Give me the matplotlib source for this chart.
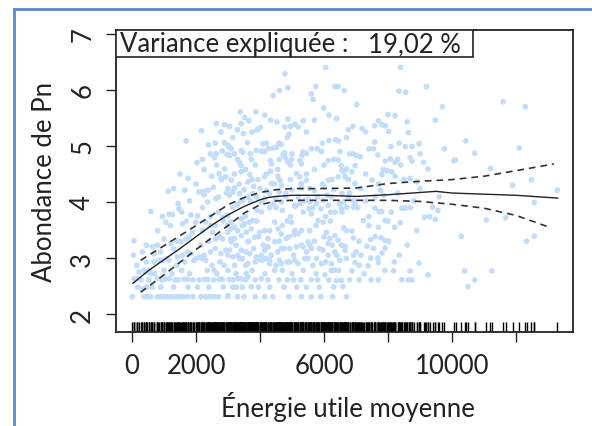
import matplotlib
matplotlib.use("Agg")
import matplotlib.pyplot as plt
from matplotlib.patches import Rectangle
from matplotlib.lines import Line2D

plt.rcParams['font.family'] = ['Lato', 'DejaVu Sans']

# ---------------- data ----------------
pts_x = [
    # upper-left area
    2630, 2890, 2170, 2780, 1690, 2390, 2890, 3040, 2630, 2570, 2820, 2970, 2030, 1750, 2490, 2720,
    2780, 2930, 2890, 1130, 1650, 2100, 2250, 2380, 2540,
    # upper-middle area
    6050, 4780, 4610, 4870, 4410, 5740, 6340, 6440, 5600, 5660, 5990, 3380, 3520, 3410, 3870, 4330,
    4530, 4870, 4770, 5090, 5190, 5700, 6390, 3290, 3480, 3910, 4010, 4910, 3610, 4090, 4590, 4670,
    4520, 4400, 6150, 6360, 6440, 5790, 5920, 5340, 5450, 5310, 4770, 4720, 3200, 3410, 3460, 3880,
    4040, 4140, 3050, 3000, 6130, 6440, 6540, 3360, 3410, 3730, 4320, 4350, 4790, 4870, 4980, 5240,
    5290, 3410, 3680, 4140, 4330, 4560, 4620, 4670, 5140, 5240, 5290, 5450, 6130, 6440, 3100, 3620,
    3940, 4350,
    # upper-right area
    8390, 6630, 8340, 8550, 9200, 7020, 9700, 8000, 8220, 8600, 9480, 6760, 7190, 7580, 7810, 7910,
    8020, 8640, 7580, 7550, 8090, 8540, 8750, 8970, 9760, 6500, 6920, 7020, 7130, 7680, 7910, 8070,
    8220, 8690, 8750, 9110, 9250, 10050, 6970, 6710, 6560, 6610, 6870, 6660, 6760, 6970, 7500, 7810,
    7970, 8120, 8220, 8690, 8900,
    # far right
    11600, 12290, 10430, 10710, 12100, 10110, 11200, 12480, 11890, 13290,
    12570, 11070, 11680, 10290, 12330, 12570, 10390, 11240, 10710, 10500,
    # lower-right area
    6560, 6760, 6610, 6920, 6710, 6920, 6560, 6970, 7760, 7860, 7590, 7720, 7810, 8430, 8540, 9390,
    9560, 9140, 9480, 7230, 7910, 8380, 8210, 7700, 6610, 6870, 6920, 7460, 7780, 7910, 8020, 6660,
    6660, 7340, 7910, 7810, 6920, 7150, 7460, 7680, 7700, 6970, 7380, 8970, 6870, 8170, 8690, 9250,
    7470, 7700, 8430, 8640, 8750, 6590,
    # lower-left area
    1440, 1470, 590, 1060, 1160, 1260, 1580, 1840, 2050, 2250, 2360, 2620, 2830, 2990, 3090, 60,
    325, 639, 795, 1002, 1212, 1525, 1681, 1891, 1994, 2308, 2464, 2517, 2621, 2830, 2987, 2777,
    2881, 2567, 2204, 2308, 2098, 1941, 1838, 1735, 1578, 1421, 1158, 952, 845, 689, 532, 376,
    219, 63, 169, 795, 1055, 1158, 1628, 1735, 2254, 2361, 2724, 2830, 3037,
    13, 376, 482, 585, 795, 899, 1002, 1368, 1472, 1735, 2308, 2567, 2987,
    639, 169, 325, 429, 585, 689, 2934, 3090,
    # lower-middle area
    3048, 3153, 3361, 3466, 3622, 3779, 4040, 4144, 4301, 4405, 4666, 5084, 5241, 5554, 5763, 5971,
    6128, 6232, 6493, 6546, 2996, 3100, 3205, 3414, 3518, 3675, 3779, 3727, 3570, 3414, 3205, 3100,
    3622, 3831, 3988, 4144, 4249, 4458, 4562, 4666, 4823, 4980, 5084, 5063, 5188, 5554, 5606, 5533,
    5815, 5971, 6076, 6180, 6337, 6441, 6546, 6128, 5971, 5554, 5502, 5606, 5345, 5136, 4927, 4666,
    4458, 4249, 4144, 4040, 3883, 3675, 3414, 3309, 3153, 3048, 3205, 3361, 3622, 3988, 4040, 4144,
    4301, 4301, 4614, 4666, 4927, 5084, 5188, 5397, 5763, 4458, 3570, 3622, 4040, 3309, 3414, 3153,
    3257, 3727, 2996, 5272, 5293, 6264, 6024, 6232, 6316, 6389, 6546, 6128, 6337, 6493, 5919, 6232,
    # around the fitted curve
    3200, 3500, 3800, 4200, 4600, 5000, 5300, 5700, 6000, 6300, 3300, 3900, 4300, 4700, 5100, 5500,
    5900, 6200, 4800, 5200, 6100, 3700, 4500,
]
pts_y = [
    5.40, 5.38, 5.27, 5.25, 5.09, 5.02, 5.06, 4.98, 4.86, 4.79, 4.91, 4.85, 4.70, 4.42, 4.46, 4.51,
    4.42, 4.45, 4.59, 4.19, 4.21, 4.18, 4.19, 4.21, 4.26,
    6.40, 6.29, 5.99, 6.04, 5.90, 6.06, 6.06, 6.06, 5.93, 5.83, 5.68, 5.61, 5.51, 5.40, 5.61, 5.46,
    5.43, 5.48, 5.34, 5.39, 5.34, 5.46, 5.49, 5.29, 5.22, 5.29, 5.33, 5.21, 5.06, 5.04, 5.05, 5.03,
    4.98, 4.96, 5.10, 5.11, 5.09, 4.95, 4.90, 4.89, 4.87, 4.83, 4.88, 4.84, 4.86, 4.92, 4.89, 4.92,
    4.91, 4.90, 4.83, 5.01, 4.74, 4.75, 4.65, 4.71, 4.65, 4.76, 4.74, 4.68, 4.79, 4.71, 4.76, 4.74,
    4.68, 4.54, 4.49, 4.45, 4.55, 4.46, 4.39, 4.30, 4.51, 4.45, 4.33, 4.39, 4.39, 4.45, 4.39, 4.36,
    4.40, 4.33,
    6.40, 5.99, 5.98, 5.96, 6.06, 5.74, 5.70, 5.56, 5.54, 5.43, 5.46, 5.29, 5.31, 5.36, 5.38, 5.36,
    5.26, 5.24, 5.07, 4.95, 4.99, 4.99, 4.99, 5.04, 4.95, 4.90, 4.86, 4.83, 4.81, 4.84, 4.73, 4.77,
    4.71, 4.79, 4.73, 4.71, 4.59, 4.74, 4.65, 4.59, 4.56, 4.54, 4.54, 4.45, 4.40, 4.33, 4.39, 4.49,
    4.56, 4.54, 4.46, 4.42, 4.36,
    5.79, 5.70, 5.09, 4.87, 4.96, 4.75, 4.60, 4.40, 4.30, 4.21,
    3.99, 3.68, 3.72, 3.39, 3.30, 3.39, 2.77, 2.77, 2.61, 2.49,
    4.15, 4.09, 4.00, 4.03, 3.91, 3.91, 3.82, 3.97, 4.21, 4.12, 3.89, 3.83, 3.83, 3.89, 3.89, 3.91,
    3.85, 3.73, 3.69, 3.67, 3.67, 3.63, 3.55, 3.55, 3.54, 3.48, 3.36, 3.33, 3.36, 3.31, 3.30, 3.21,
    3.14, 3.21, 3.18, 3.09, 3.05, 3.05, 3.00, 3.00, 2.92, 2.92, 2.86, 2.91, 2.77, 2.77, 2.77, 2.70,
    2.61, 2.61, 2.61, 2.61, 2.61, 2.49,
    3.97, 3.88, 3.83, 3.64, 3.78, 3.78, 3.61, 3.77, 3.75, 4.13, 4.00, 4.06, 3.73, 3.58, 3.52, 3.31,
    3.11, 3.20, 3.23, 3.34, 3.26, 3.29, 3.34, 3.46, 3.64, 3.64, 3.58, 3.46, 3.34, 3.34, 3.46, 3.08,
    2.87, 2.78, 2.99, 2.96, 3.02, 2.96, 3.08, 3.11, 3.05, 3.02, 2.96, 2.96, 2.96, 2.93, 2.78, 2.78,
    2.75, 2.63, 2.63, 2.63, 2.63, 2.63, 2.62, 2.62, 2.62, 2.62, 2.62, 2.62, 2.62,
    2.31, 2.31, 2.31, 2.31, 2.31, 2.31, 2.31, 2.31, 2.31, 2.31, 2.31, 2.31, 2.31,
    2.48, 2.48, 2.45, 2.75, 2.72, 3.08, 3.14, 3.34,
    4.12, 4.18, 4.15, 4.03, 4.09, 4.15, 4.00, 4.06, 4.15, 3.97, 4.00, 3.94, 3.97, 4.00, 3.97, 4.03,
    3.94, 4.09, 3.97, 3.88, 3.76, 3.64, 3.55, 3.70, 3.61, 3.64, 3.67, 3.52, 3.46, 3.40, 3.35, 3.29,
    3.29, 3.37, 3.46, 3.49, 3.35, 3.64, 3.52, 3.43, 3.35, 3.64, 3.49, 3.42, 3.43, 3.49, 3.79, 3.88,
    3.67, 3.64, 3.46, 3.35, 3.40, 3.32, 3.23, 3.26, 3.14, 3.23, 3.29, 3.17, 3.20, 3.20, 3.17, 3.17,
    3.29, 3.20, 3.14, 3.05, 3.02, 3.08, 3.14, 3.05, 3.02, 3.14, 2.87, 2.99, 2.90, 2.99, 2.96, 2.99,
    2.96, 2.90, 2.96, 2.90, 2.93, 2.96, 2.90, 2.99, 2.99, 2.78, 2.72, 2.66, 2.63, 2.63, 2.63, 2.48,
    2.48, 2.49, 2.33, 2.61, 2.31, 2.31, 2.70, 2.78, 2.78, 2.60, 2.60, 3.05, 3.11, 2.96, 2.90, 2.90,
    4.25, 4.22, 4.28, 4.20, 4.18, 4.22, 4.25, 4.20, 4.28, 4.22, 3.95, 3.85, 3.90, 3.85, 3.92, 4.05,
    3.88, 3.82, 4.10, 4.08, 4.12, 4.02, 4.05,
]

# further points of the dense cloud, estimated band by band
more_x = [
    1100, 1230, 1600, 1900, 2150, 2450, 2700, 3300, 3500, 3850, 4150, 4400, 4900, 5600, 5900, 6700,
    450, 900, 1300, 1750, 2050, 2400, 2850, 3450, 3950, 4300, 4750, 5150, 5450, 5850, 6300,
    280, 520, 950, 1350, 1450, 1900, 2100, 2550, 3150, 3550, 3850, 4250, 4600, 4850, 5050, 5600,
    5800, 6150, 6800, 7100,
    700, 1000, 1250, 1550, 1800, 2350, 2650, 3000, 3250, 3750, 4150, 4700, 5000, 5350, 5750, 6450,
    7250, 7900,
    150, 450, 1100, 1400, 1650, 2000, 2500, 2750, 3450, 3550, 3850, 4200, 4500, 4850, 5500, 5650,
    6050, 6700, 7100, 8200,
    50, 900, 1300, 2250, 2450, 2600, 3000, 3550, 3800, 4350, 4550, 4750, 5050, 5450, 5850, 6400,
    7000, 7550, 8350,
    450, 1400, 1800, 2150, 2400, 2750, 3250, 3650, 3950, 4100, 4600, 4900, 5300, 5700, 6000, 6250,
    7100, 7600, 8600,
    800, 1200, 1700, 2200, 2600, 2850, 3300, 3450, 3900, 4300, 4700, 4850, 5300, 5750, 6200, 6700,
    7400, 8000, 8900,
    950, 1550, 2200, 2450, 2700, 3150, 3550, 4050, 4500, 4950, 5350, 5650, 6050, 6350, 7050, 7400,
    8100, 8700, 9300,
    1800, 2700, 2950, 3400, 3900, 4800, 5400, 5800, 6800, 7300, 7600, 8300, 8800, 9600,
    1300, 2000, 2800, 3000, 3350, 3750, 4000, 4450, 4950, 5550, 5950, 6250, 7150, 7700, 8500, 9000,
    1500, 2250, 2650, 3200, 3550, 3850, 4200, 4550, 4950, 5450, 5700, 6000, 7300, 7850, 8400,
    2200, 2450, 3100, 3300, 3700, 4250, 4600, 5000, 5600, 6300, 6800, 7400, 8300, 9000,
    2600, 3150, 3750, 4200, 4850, 5450, 5950, 6700, 7300, 8350,
    3050, 3650, 4150, 4950, 5350, 6150, 6900, 7700,
]
more_y = [
    2.31, 2.31, 2.31, 2.31, 2.31, 2.31, 2.31, 2.31, 2.31, 2.31, 2.31, 2.31, 2.31, 2.31, 2.31, 2.31,
    2.48, 2.48, 2.48, 2.48, 2.48, 2.48, 2.48, 2.48, 2.48, 2.48, 2.48, 2.48, 2.48, 2.48, 2.48,
    2.61, 2.61, 2.61, 2.61, 2.61, 2.61, 2.61, 2.61, 2.61, 2.61, 2.61, 2.61, 2.61, 2.61, 2.61, 2.61,
    2.61, 2.61, 2.61, 2.61,
    2.72, 2.78, 2.72, 2.78, 2.72, 2.78, 2.72, 2.78, 2.72, 2.78, 2.72, 2.78, 2.72, 2.78, 2.72, 2.78,
    2.72, 2.78,
    2.87, 2.93, 2.99, 2.87, 2.93, 2.99, 2.87, 2.93, 2.99, 2.87, 2.93, 2.99, 2.87, 2.93, 2.99, 2.87,
    2.93, 2.99, 2.87, 2.93,
    3.05, 3.11, 3.17, 3.05, 3.11, 3.17, 3.05, 3.11, 3.17, 3.05, 3.11, 3.17, 3.05, 3.11, 3.17, 3.05,
    3.11, 3.17, 3.05,
    3.23, 3.30, 3.38, 3.23, 3.30, 3.38, 3.23, 3.30, 3.38, 3.23, 3.30, 3.38, 3.23, 3.30, 3.38, 3.23,
    3.30, 3.38, 3.23,
    3.49, 3.58, 3.66, 3.49, 3.58, 3.66, 3.49, 3.58, 3.66, 3.49, 3.58, 3.66, 3.49, 3.58, 3.66, 3.49,
    3.58, 3.66, 3.49,
    3.74, 3.82, 3.90, 3.74, 3.82, 3.90, 3.74, 3.82, 3.90, 3.74, 3.82, 3.90, 3.74, 3.82, 3.90, 3.74,
    3.82, 3.90, 3.74,
    4.02, 4.09, 4.16, 4.02, 4.09, 4.16, 4.02, 4.09, 4.16, 4.02, 4.09, 4.16, 4.02, 4.09,
    4.24, 4.32, 4.40, 4.24, 4.32, 4.40, 4.24, 4.32, 4.40, 4.24, 4.32, 4.40, 4.24, 4.32, 4.40, 4.24,
    4.50, 4.58, 4.66, 4.50, 4.58, 4.66, 4.50, 4.58, 4.66, 4.50, 4.58, 4.66, 4.50, 4.58, 4.66,
    4.76, 4.86, 4.95, 4.76, 4.86, 4.95, 4.76, 4.86, 4.95, 4.76, 4.86, 4.95, 4.76, 4.86,
    5.05, 5.15, 5.25, 5.05, 5.15, 5.25, 5.05, 5.15, 5.25, 5.05,
    5.35, 5.45, 5.55, 5.35, 5.45, 5.55, 5.35, 5.45,
]

fit_x = [30, 500, 1000, 1500, 2000, 2500, 3000, 3500, 3750, 4000, 4250, 4500, 5000, 6000, 7000,
         8000, 9000, 9500, 10000, 11000, 12000, 13300]
fit_y = [2.55, 2.77, 2.97, 3.17, 3.38, 3.59, 3.77, 3.92, 3.98, 4.04, 4.08, 4.10, 4.12, 4.12, 4.10,
         4.13, 4.17, 4.19, 4.16, 4.14, 4.12, 4.07]

upper_x = [270, 1000, 2000, 3000, 3500, 4000, 4500, 5000, 6000, 7000, 8000, 9000, 10000, 11000,
           12000, 12600, 13180]
upper_y = [2.96, 3.22, 3.58, 3.95, 4.08, 4.17, 4.22, 4.24, 4.24, 4.25, 4.33, 4.37, 4.40, 4.46,
           4.56, 4.62, 4.68]
lower_x = [270, 1000, 2000, 3000, 3500, 4000, 4500, 5000, 6000, 7000, 8000, 9000, 10000, 11000,
           12000, 12600, 13080]
lower_y = [2.39, 2.70, 3.15, 3.58, 3.80, 3.95, 4.02, 4.03, 4.03, 4.03, 4.03, 4.01, 3.96, 3.89,
           3.76, 3.64, 3.54]

x_ticks = [0, 2000, 4000, 6000, 8000, 10000, 12000]
x_ticklabels = ['0', '2000', '', '6000', '', '10000', '']
y_ticks = [2, 3, 4, 5, 6, 7]
y_ticklabels = ['2', '3', '4', '5', '6', '7']

x_label = 'Énergie utile moyenne'
y_label = 'Abondance de Pn'
var_label = 'Variance expliquée :'
var_value = '19,02 %'

# ---------------- figure ----------------
W, H = 592, 427
FS = 18.5
fig = plt.figure(figsize=(W / 100, H / 100), dpi=100)
fig.patch.set_facecolor('white')

# blue frame (cropped screenshot border)
fig.add_artist(Line2D([14 / W, 1.0], [1 - 10 / H, 1 - 10 / H], transform=fig.transFigure,
                      color='#5B8BCB', lw=2.0))
fig.add_artist(Line2D([14 / W, 14 / W], [0.0, 1 - 10 / H], transform=fig.transFigure,
                      color='#5B8BCB', lw=2.0))

L, R, T, B = 116, 573, 31, 333
ax = fig.add_axes([L / W, 1 - B / H, (R - L) / W, (B - T) / H])
ax.set_xlim(-500, 13780)
ax.set_ylim(1.68, 7.07)

all_x = pts_x + more_x
all_y = pts_y + more_y
ax.scatter(all_x, all_y, s=17, color='#C2DDFB', edgecolors='none', zorder=1)

# rug
for xv in all_x:
    ax.plot([xv, xv], [0, 0.033], transform=ax.get_xaxis_transform(), color='black',
            lw=1.0, zorder=2, solid_capstyle='butt')

ax.plot(fit_x, fit_y, color='#222222', lw=1.0, zorder=3)
ax.plot(upper_x, upper_y, color='#333333', lw=1.2, dashes=(4, 3), zorder=3)
ax.plot(lower_x, lower_y, color='#333333', lw=1.2, dashes=(4, 3), zorder=3)

for s in ax.spines.values():
    s.set_linewidth(1.3)
    s.set_color('#222222')

ax.set_xticks(x_ticks)
ax.set_xticklabels(x_ticklabels)
ax.set_yticks(y_ticks)
ax.set_yticklabels(y_ticklabels)
ax.tick_params(axis='both', length=7, width=1.0, color='#222222', labelsize=FS,
               labelcolor='#222222')
ax.tick_params(axis='x', pad=8)
ax.tick_params(axis='y', pad=8)
for lbl in ax.get_yticklabels():
    lbl.set_rotation(90)
    lbl.set_va('center')

# variance box
ax.add_patch(Rectangle((0, 1 - 27 / (B - T)), (473 - L) / (R - L), 27 / (B - T),
                       transform=ax.transAxes, facecolor='white', edgecolor='#222222',
                       lw=1.2, zorder=5))
ax.text((120 - L) / (R - L), 1 - 13.5 / (B - T), var_label, transform=ax.transAxes,
        ha='left', va='center', fontsize=FS, color='#222222', zorder=6)
ax.text((368 - L) / (R - L), 1 - 13.5 / (B - T), var_value, transform=ax.transAxes,
        ha='left', va='center', fontsize=FS, color='#222222', zorder=6)

fig.text(348 / W, 1 - 407 / H, x_label, ha='center', va='center', fontsize=FS, color='#222222')
fig.text(45 / W, 1 - 182 / H, y_label, ha='center', va='center', rotation=90, fontsize=FS,
         color='#222222')

fig.savefig('out.png', dpi=100)
